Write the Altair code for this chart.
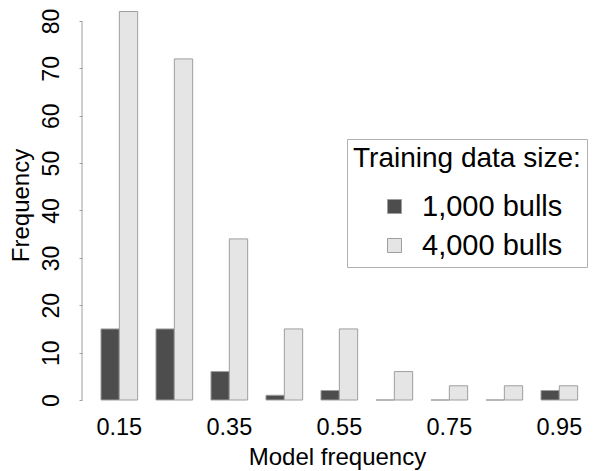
import altair as alt
import pandas as pd

# ---- data ----
model_freq = ["0.15", "0.25", "0.35", "0.45", "0.55", "0.65", "0.75", "0.85", "0.95"]
bulls_1000 = [15, 15, 6, 1, 2, 0, 0, 0, 2]
bulls_4000 = [82, 72, 34, 15, 15, 6, 3, 3, 3]
series = ["1,000 bulls", "4,000 bulls"]
x_labels = ["0.15", "0.35", "0.55", "0.75", "0.95"]
y_ticks = [0, 10, 20, 30, 40, 50, 60, 70, 80]

rows = []
for f, a, b in zip(model_freq, bulls_1000, bulls_4000):
    rows.append({"freq": f, "size": series[0], "count": a})
    rows.append({"freq": f, "size": series[1], "count": b})
df = pd.DataFrame(rows)
axis_df = pd.DataFrame({"lo": [y_ticks[0]], "hi": [y_ticks[-1]]})

FONT = "Liberation Sans"
GRAY = "#9e9e9e"

bars = alt.Chart(df).mark_bar(stroke=GRAY, strokeWidth=1, opacity=1).encode(
    x=alt.X(
        "freq:N",
        sort=model_freq,
        scale=alt.Scale(paddingInner=1 / 3, paddingOuter=0.303, align=0.57),
        axis=alt.Axis(
            values=x_labels, labelAngle=0, ticks=False, domain=False, grid=False,
            labelPadding=15, labelFont=FONT, labelFontSize=23.5, labelColor="black",
            title="Model frequency", titleFont=FONT, titleFontSize=24,
            titleFontWeight="normal", titleColor="black", titlePadding=7,
        ),
    ),
    xOffset=alt.XOffset("size:N", sort=series,
                        scale=alt.Scale(paddingInner=0, paddingOuter=0)),
    y=alt.Y(
        "count:Q",
        scale=alt.Scale(domain=[0, 82.32], nice=False, zero=True),
        axis=alt.Axis(
            values=y_ticks, domain=False, grid=False, tickSize=3, tickColor=GRAY,
            labelAngle=270, labelAlign="center", labelBaseline="alphabetic",
            labelPadding=21, labelFont=FONT, labelFontSize=23, labelColor="black",
            title="Frequency", titleFont=FONT, titleFontSize=24,
            titleFontWeight="normal", titleColor="black",
            titleBaseline="alphabetic", titleX=-54,
        ),
    ),
    color=alt.Color(
        "size:N",
        sort=series,
        scale=alt.Scale(domain=series, range=["#4d4d4d", "#e5e5e5"]),
        legend=alt.Legend(
            title="Training data size:", orient="none", legendX=265, legendY=129,
            titleFont=FONT, titleFontSize=28, titleFontWeight="normal", titleColor="black",
            titleLimit=500, labelLimit=500,
            labelFont=FONT, labelFontSize=29, labelColor="black",
            symbolType="square", symbolSize=196, symbolStrokeColor=GRAY,
            symbolStrokeWidth=1, symbolOffset=27, labelOffset=13,
            rowPadding=9, titlePadding=19, padding=6,
            strokeColor="#b0b0b0", fillColor="white",
        ),
    ),
)

axis_line = alt.Chart(axis_df).mark_rule(color=GRAY, strokeWidth=1).encode(
    x=alt.value(0), y="lo:Q", y2="hi:Q"
)

chart = alt.layer(axis_line, bars).properties(
    width=510,
    height=390,
    padding={"left": 74, "top": 2, "right": 0, "bottom": 71},
    autosize=alt.AutoSizeParams(type="none"),
).configure_view(stroke=None)

chart.save("out.html", embed_options={"renderer": "svg", "actions": False})
